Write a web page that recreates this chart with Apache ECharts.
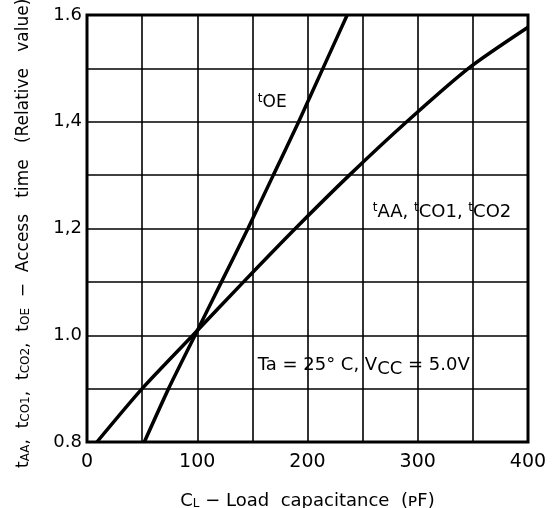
<!DOCTYPE html>
<html>
<head>
<meta charset="utf-8">
<script src="https://cdn.jsdelivr.net/npm/echarts@6/dist/echarts.min.js"></script>
<style>
  html, body { margin: 0; padding: 0; background: #fff; }
  #chart { width: 556px; height: 508px; }
</style>
</head>
<body>
<div id="chart"></div>
<script>
// load capacitance (pF) vs relative access time
const toeX = [52, 74, 98, 122, 146, 169, 192, 214, 236];
const toeY = [0.8, 0.9, 1.0, 1.1, 1.2, 1.3, 1.4, 1.5, 1.6];
const taaX = [9, 50, 96, 142, 189, 238, 290, 346, 400];
const taaY = [0.8, 0.9, 1.0, 1.1, 1.2, 1.3, 1.4, 1.5, 1.577];
const xTicks = ['0', '100', '200', '300', '400'];
const yTicks = ['0.8', '1.0', '1,2', '1,4', '1.6'];

const font = 'DejaVu Sans';
const zip = (xs, ys) => xs.map((x, i) => [x, ys[i]]);

const chart = echarts.init(document.getElementById('chart'));

const lineStyle = { color: '#000', width: 3.5 };

chart.setOption({
  animation: false,
  backgroundColor: '#fff',
  grid: {
    left: 87, right: 28, top: 15, bottom: 66,
    outerBoundsMode: 'none', containLabel: false,
    show: true, borderColor: '#000', borderWidth: 3
  },
  xAxis: {
    type: 'value', min: 0, max: 400, interval: 50,
    axisLine: { show: false },
    axisTick: { show: false },
    splitLine: { lineStyle: { color: '#000', width: 1.6 } },
    axisLabel: {
      color: '#000', fontFamily: font, fontSize: 19, margin: 11,
      formatter: v => (v % 100 === 0 ? xTicks[v / 100] : '')
    },
    name: 'C{sub|L} − Load  capacitance  (ᴘF)',
    nameLocation: 'middle', nameGap: 50,
    nameTextStyle: {
      color: '#000', fontFamily: font, fontSize: 18,
      rich: { sub: { fontSize: 12, fontFamily: font, color: '#000', padding: [6, 0, 0, 0] } }
    }
  },
  yAxis: {
    type: 'value', min: 0.8, max: 1.6, interval: 0.1,
    axisLine: { show: false },
    axisTick: { show: false },
    splitLine: { lineStyle: { color: '#000', width: 1.6 } },
    axisLabel: {
      color: '#000', fontFamily: font, fontSize: 18, margin: 5,
      formatter: v => {
        const k = Math.round((v - 0.8) * 10);
        return k % 2 === 0 ? yTicks[k / 2] : '';
      }
    }
  },
  graphic: [
    {
      type: 'text', x: 24, y: 468, rotation: Math.PI / 2,
      style: {
        text: 't{s|AA},  t{s|CO1},  t{s|CO2},  t{s|OE}  −  Access   time   (Relative   value)',
        font: '17px "DejaVu Sans"', fill: '#000',
        align: 'left', verticalAlign: 'middle',
        rich: { s: { fontSize: 12, fontFamily: font, fill: '#000', padding: [4, 0, 0, 0] } }
      }
    }
  ],
  series: [
    {
      type: 'line', data: zip(toeX, toeY), symbol: 'none', smooth: 0.2,
      lineStyle,
      markPoint: {
        symbolSize: 0,
        data: [{ coord: [168, 1.435] }],
        label: {
          show: true, color: '#000', fontFamily: font, fontSize: 17,
          formatter: '{s|t}OE',
          rich: { s: { fontSize: 12, fontFamily: font, color: '#000', padding: [0, 0, 8, 0] } }
        }
      }
    },
    {
      type: 'line', data: zip(taaX, taaY), symbol: 'none', smooth: 0.25,
      lineStyle,
      markPoint: {
        symbolSize: 0,
        data: [
          { coord: [322, 1.231], name: 'taa' },
          { coord: [251, 0.944], name: 'cond' }
        ],
        label: {
          show: true, color: '#000', fontFamily: font, fontSize: 18,
          formatter: p => p.name === 'taa'
            ? '{s|t}AA, {s|t}CO1, {s|t}CO2'
            : 'Ta = 25° C, V{b|CC} = 5.0V',
          rich: {
            s: { fontSize: 12, fontFamily: font, color: '#000', padding: [0, 0, 8, 0] },
            b: { fontSize: 18, fontFamily: font, color: '#000', padding: [8, 0, 0, 0] }
          }
        }
      }
    }
  ]
});
</script>
</body>
</html>
